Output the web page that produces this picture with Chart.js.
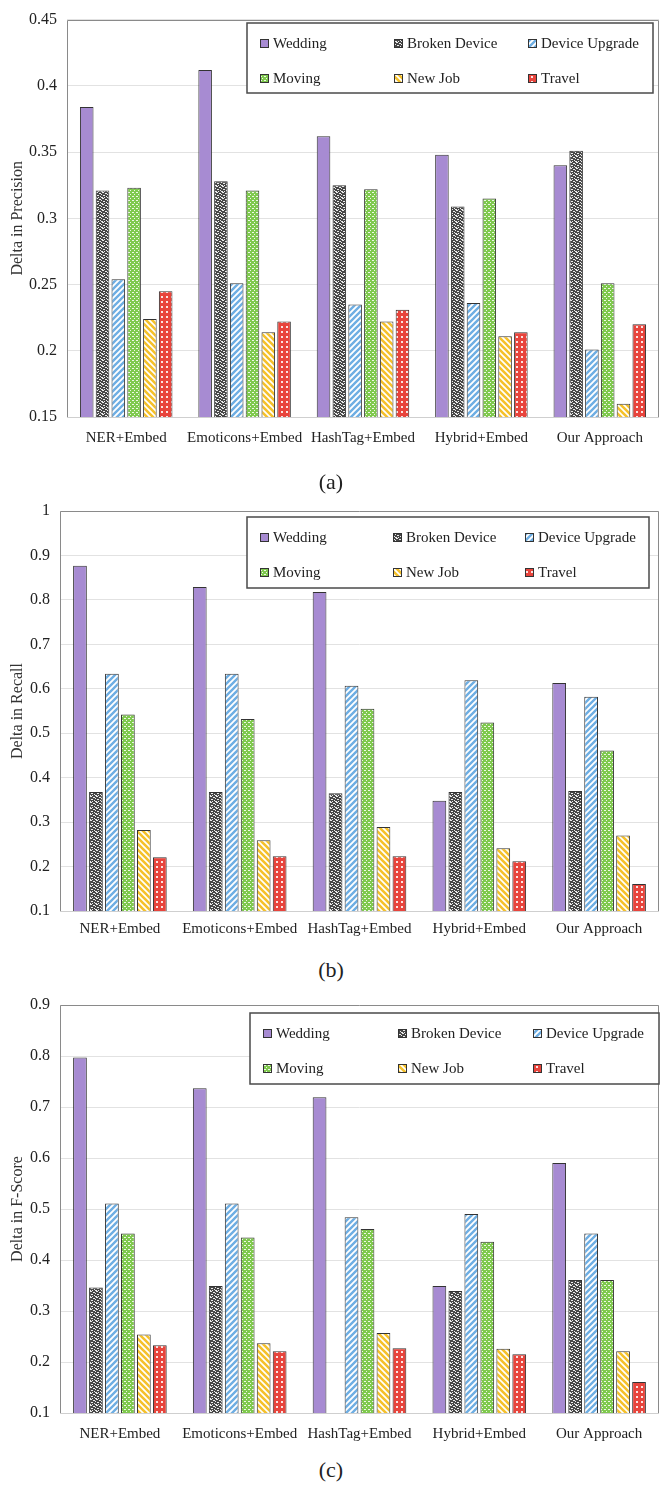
<!DOCTYPE html>
<html>
<head>
<meta charset="utf-8">
<script src="https://cdn.jsdelivr.net/npm/chart.js@4.4.1/dist/chart.umd.min.js"></script>
<style>
  body { margin: 0; background: #fff; width: 662px; height: 1488px; position: relative; font-family: "Liberation Serif", serif; }
  .panel { position: absolute; left: 0; width: 662px; }
  .caption { position: absolute; left: 0; width: 662px; text-align: center; font-size: 22px; line-height: 26px; color: #222; }
</style>
</head>
<body>
<div class="panel" style="top:0px"><canvas id="precisionChart" width="662" height="465"></canvas></div>
<div class="panel" style="top:490px"><canvas id="recallChart" width="662" height="465"></canvas></div>
<div class="panel" style="top:985px"><canvas id="fscoreChart" width="662" height="470"></canvas></div>
<div class="caption" style="top:469px">(a)</div>
<div class="caption" style="top:957px">(b)</div>
<div class="caption" style="top:1457px">(c)</div>

<script>
const categories = ['NER+Embed', 'Emoticons+Embed', 'HashTag+Embed', 'Hybrid+Embed', 'Our Approach'];
const seriesNames = ['Wedding', 'Broken Device', 'Device Upgrade', 'Moving', 'New Job', 'Travel'];

// (a) Delta in Precision
const precisionWedding = [0.384, 0.412, 0.362, 0.348, 0.340];
const precisionBroken  = [0.321, 0.328, 0.325, 0.309, 0.351];
const precisionUpgrade = [0.254, 0.251, 0.235, 0.236, 0.201];
const precisionMoving  = [0.323, 0.321, 0.322, 0.315, 0.251];
const precisionNewJob  = [0.224, 0.214, 0.222, 0.211, 0.160];
const precisionTravel  = [0.245, 0.222, 0.231, 0.214, 0.220];

// (b) Delta in Recall
const recallWedding = [0.877, 0.829, 0.818, 0.348, 0.613];
const recallBroken  = [0.368, 0.368, 0.365, 0.368, 0.370];
const recallUpgrade = [0.634, 0.634, 0.607, 0.619, 0.582];
const recallMoving  = [0.542, 0.532, 0.555, 0.524, 0.461];
const recallNewJob  = [0.282, 0.259, 0.289, 0.241, 0.270];
const recallTravel  = [0.221, 0.223, 0.223, 0.212, 0.161];

// (c) Delta in F-Score (no Broken Device bar for HashTag+Embed)
const fscoreWedding = [0.797, 0.737, 0.719, 0.349, 0.590];
const fscoreBroken  = [0.346, 0.349, null, 0.339, 0.361];
const fscoreUpgrade = [0.511, 0.511, 0.484, 0.490, 0.452];
const fscoreMoving  = [0.452, 0.444, 0.461, 0.436, 0.361];
const fscoreNewJob  = [0.254, 0.237, 0.257, 0.226, 0.221];
const fscoreTravel  = [0.233, 0.221, 0.227, 0.215, 0.161];

// y tick ranges
const precisionTicks = [0.15, 0.45, 0.05];
const recallTicks = [0.1, 1, 0.1];
const fscoreTicks = [0.1, 0.9, 0.1];

const FONT = '"Liberation Serif", "Times New Roman", serif';

// small repeating tiles for the Excel-like fills
function makeTile(size, draw) {
    const c = document.createElement('canvas');
    c.width = size;
    c.height = size;
    const g = c.getContext('2d');
    draw(g, size);
    return g.createPattern(c, 'repeat');
}

const fills = [
    '#a78bd2',
    makeTile(6, (g) => {
        g.fillStyle = '#474747'; g.fillRect(0, 0, 6, 6);
        g.fillStyle = '#ececec';
        [[0, 0], [1, 0], [3, 1], [4, 1], [1, 3], [2, 3], [4, 4], [5, 2], [2, 5], [0, 5], [5, 5]].forEach(p => g.fillRect(p[0], p[1], 1, 1));
    }),
    makeTile(6, (g) => {
        g.fillStyle = '#fff'; g.fillRect(0, 0, 6, 6);
        g.strokeStyle = '#6eaee3'; g.lineWidth = 2.4;
        g.beginPath();
        g.moveTo(-1, 7); g.lineTo(7, -1);
        g.moveTo(-4, 4); g.lineTo(4, -4);
        g.moveTo(2, 10); g.lineTo(10, 2);
        g.stroke();
    }),
    makeTile(4, (g) => {
        g.fillStyle = '#7fc94e'; g.fillRect(0, 0, 4, 4);
        g.fillStyle = '#eef8e6'; g.fillRect(0, 0, 1, 1); g.fillRect(2, 2, 1, 1); g.fillRect(1, 0, 1, 1);
    }),
    makeTile(6, (g) => {
        g.fillStyle = '#fff'; g.fillRect(0, 0, 6, 6);
        g.strokeStyle = '#f5c12b'; g.lineWidth = 2.6;
        g.beginPath();
        g.moveTo(-1, -1); g.lineTo(7, 7);
        g.moveTo(-4, 2); g.lineTo(4, 10);
        g.moveTo(2, -4); g.lineTo(10, 4);
        g.stroke();
    }),
    makeTile(5, (g) => {
        g.fillStyle = '#e8443c'; g.fillRect(0, 0, 5, 5);
        g.fillStyle = '#fbe3e1'; g.fillRect(1, 1, 2, 2);
    })
];

// draws the plot frame and the boxed legend inside the plot
const frameAndLegend = {
    id: 'frameAndLegend',
    afterDraw(chart, args, opts) {
        const ctx = chart.ctx;
        const a = chart.chartArea;
        ctx.save();
        ctx.lineWidth = 1;
        ctx.strokeStyle = '#cfcfcf';
        ctx.beginPath();
        ctx.moveTo(a.left, Math.round(a.bottom) + 0.5);
        ctx.lineTo(a.right, Math.round(a.bottom) + 0.5);
        ctx.stroke();
        ctx.strokeStyle = '#8a8a8a';
        ctx.beginPath();
        ctx.moveTo(Math.round(a.left) + 0.5, a.bottom);
        ctx.lineTo(Math.round(a.left) + 0.5, Math.round(a.top) + 0.5);
        ctx.lineTo(Math.round(a.right) - 0.5, Math.round(a.top) + 0.5);
        ctx.lineTo(Math.round(a.right) - 0.5, a.bottom);
        ctx.stroke();

        const b = opts.box;
        ctx.fillStyle = '#fff';
        ctx.fillRect(b.x, b.y, b.w, b.h);
        ctx.strokeStyle = '#4a4a4a';
        ctx.lineWidth = 1.5;
        ctx.strokeRect(b.x, b.y, b.w, b.h);

        const cols = [13, b.w * 0.362, b.w * 0.692];
        const rows = [19.5, 55];
        ctx.font = '15px ' + FONT;
        ctx.textBaseline = 'middle';
        ctx.textAlign = 'left';
        chart.data.datasets.forEach((ds, i) => {
            const x = Math.round(b.x + cols[i % 3]);
            const y = Math.round(b.y + rows[Math.floor(i / 3)]);
            ctx.fillStyle = ds.backgroundColor;
            ctx.fillRect(x, y - 4, 9, 9);
            ctx.lineWidth = 1;
            ctx.strokeStyle = '#333';
            ctx.strokeRect(x + 0.5, y - 3.5, 8, 8);
            ctx.fillStyle = '#222';
            ctx.fillText(ds.label, x + 13, y + 1);
        });
        ctx.restore();
    }
};

function buildChart(id, yTitle, values, ticks, layout) {
    const datasets = seriesNames.map((name, i) => ({
        label: name,
        data: values[i],
        backgroundColor: fills[i],
        borderColor: '#333',
        borderWidth: 1,
        categoryPercentage: 0.8,
        barPercentage: 0.86
    }));

    new Chart(document.getElementById(id), {
        type: 'bar',
        data: { labels: categories, datasets: datasets },
        options: {
            responsive: false,
            animation: false,
            layout: { padding: { top: layout.top, right: 3, left: 0, bottom: 0 } },
            plugins: {
                legend: { display: false },
                tooltip: { enabled: false },
                frameAndLegend: { box: layout.box }
            },
            scales: {
                x: {
                    grid: { display: false },
                    border: { display: false },
                    ticks: { color: '#222', font: { family: FONT, size: 15 }, padding: layout.labelPad, maxRotation: 0, autoSkip: false },
                    afterFit: (s) => { s.height = layout.xHeight; }
                },
                y: {
                    min: ticks[0],
                    max: ticks[1],
                    grid: { color: '#e2e2e2', drawTicks: false },
                    border: { display: false },
                    ticks: {
                        stepSize: ticks[2],
                        color: '#222',
                        padding: 10,
                        font: { family: FONT, size: 16 },
                        callback: (v) => String(+v.toFixed(2))
                    },
                    title: {
                        display: true,
                        text: yTitle,
                        color: '#333',
                        font: { family: FONT, size: 16 },
                        padding: { top: 8, bottom: 4 }
                    },
                    afterFit: (s) => { s.width = layout.left; }
                }
            }
        },
        plugins: [frameAndLegend]
    });
}

buildChart('precisionChart', 'Delta in Precision',
    [precisionWedding, precisionBroken, precisionUpgrade, precisionMoving, precisionNewJob, precisionTravel],
    precisionTicks,
    { top: 15, left: 67, xHeight: 48, labelPad: 4, box: { x: 247, y: 23, w: 406, h: 70 } });

buildChart('recallChart', 'Delta in Recall',
    [recallWedding, recallBroken, recallUpgrade, recallMoving, recallNewJob, recallTravel],
    recallTicks,
    { top: 21, left: 60, xHeight: 44, labelPad: 1, box: { x: 247, y: 27, w: 402, h: 71 } });

buildChart('fscoreChart', 'Delta in F-Score',
    [fscoreWedding, fscoreBroken, fscoreUpgrade, fscoreMoving, fscoreNewJob, fscoreTravel],
    fscoreTicks,
    { top: 20, left: 60, xHeight: 42, labelPad: 4, box: { x: 250, y: 28, w: 409, h: 71 } });
</script>
</body>
</html>
